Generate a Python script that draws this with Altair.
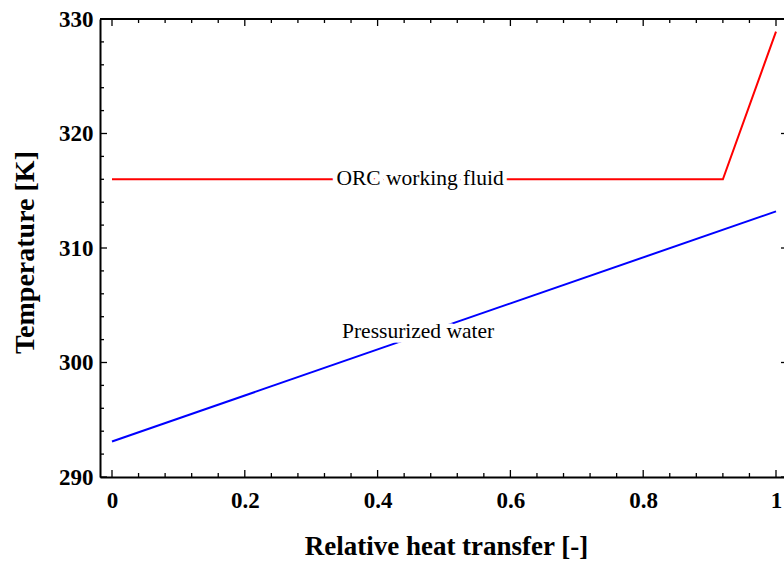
import altair as alt
import pandas as pd

# ORC working fluid: isothermal evaporation, then superheating
orc_x = [0.0, 0.92, 1.0]
orc_t = [316.0, 316.0, 328.9]
# Pressurized water (heat source side)
water_x = [0.0, 1.0]
water_t = [293.1, 313.2]

# Inline curve labels
label_text = ["ORC working fluid", "Pressurized water"]
label_x = [0.464, 0.461]
label_t = [316.0, 302.65]

# Tick positions
x_major = [0.0, 0.2, 0.4, 0.6, 0.8, 1.0]
x_minor = [0.04, 0.08, 0.12, 0.16, 0.24, 0.28, 0.32, 0.36, 0.44, 0.48, 0.52, 0.56,
           0.64, 0.68, 0.72, 0.76, 0.84, 0.88, 0.92, 0.96]
y_major = [290, 300, 310, 320, 330]
y_minor = [292, 294, 296, 298, 302, 304, 306, 308, 312, 314, 316, 318,
           322, 324, 326, 328]

W, H = 684, 458
SERIF = "Liberation Serif"

lines_df = pd.DataFrame({
    "x": orc_x + water_x,
    "t": orc_t + water_t,
    "series": ["ORC working fluid"] * len(orc_x) + ["Pressurized water"] * len(water_x),
})
labels_df = pd.DataFrame({"label": label_text, "x": label_x, "t": label_t})

xs = alt.Scale(domain=[-0.01807, 1.01205], nice=False, zero=False)
ys = alt.Scale(domain=[290, 330], nice=False, zero=False)

x_axis = alt.Axis(
    values=x_major, format=".1~f", title="Relative heat transfer [-]",
    titleFont=SERIF, titleFontSize=27, titleFontWeight="bold", titleColor="black",
    titleX=346, titleY=77, titleBaseline="alphabetic", titleAlign="center",
    labelFont=SERIF, labelFontSize=23, labelFontWeight="bold", labelColor="black",
    labelPadding=12, ticks=False, tickSize=0, domainColor="black", domainWidth=2,
    grid=False, labelFlush=False, labelOverlap=False,
)
y_axis = alt.Axis(
    values=y_major, format="d", title="Temperature [K]",
    titleFont=SERIF, titleFontSize=28, titleFontWeight="bold", titleColor="black",
    titleX=-67, titleY=233, titleAngle=-90, titleBaseline="alphabetic", titleAlign="center",
    labelFont=SERIF, labelFontSize=23, labelFontWeight="bold", labelColor="black",
    labelPadding=7, ticks=False, tickSize=0, domainColor="black", domainWidth=2,
    grid=False, labelFlush=False, labelOverlap=False,
)


def X(field):
    return alt.X(field, scale=xs, axis=x_axis)


def Y(field):
    return alt.Y(field, scale=ys, axis=y_axis)


lines = alt.Chart(lines_df).mark_line(strokeWidth=2).encode(
    x=X("x:Q"),
    y=Y("t:Q"),
    color=alt.Color("series:N", legend=None,
                    scale=alt.Scale(domain=["ORC working fluid", "Pressurized water"],
                                    range=["#ff0000", "#0000ff"])),
)

# White halo behind labels breaks the curves under the text
halo = alt.Chart(labels_df).mark_text(
    font=SERIF, fontSize=21.5, align="center", baseline="middle",
    color="white", stroke="white", strokeWidth=9, strokeJoin="round",
).encode(x=X("x:Q"), y=Y("t:Q"), text="label:N")
text = alt.Chart(labels_df).mark_text(
    font=SERIF, fontSize=21.5, align="center", baseline="middle", color="black",
).encode(x=X("x:Q"), y=Y("t:Q"), text="label:N")

top_line = alt.Chart(pd.DataFrame({"d": [0]})).mark_rule(color="black", strokeWidth=2).encode(
    x=alt.value(0), x2=alt.value(W), y=alt.value(0)
)


def xticks(vals, length):
    df = pd.DataFrame({"x": vals})
    base = alt.Chart(df).mark_rule(color="black", strokeWidth=1.3)
    bottom = base.encode(x=X("x:Q"), y=alt.value(H), y2=alt.value(H - length))
    top = base.encode(x=X("x:Q"), y=alt.value(0), y2=alt.value(length))
    return [bottom, top]


def yticks(vals, length):
    df = pd.DataFrame({"t": vals})
    base = alt.Chart(df).mark_rule(color="black", strokeWidth=1.3)
    left = base.encode(y=Y("t:Q"), x=alt.value(0), x2=alt.value(length))
    right = base.encode(y=Y("t:Q"), x=alt.value(W + 4), x2=alt.value(W + 4 - length))
    return [left, right]


tick_layers = xticks(x_major, 7) + xticks(x_minor, 4) + yticks(y_major, 7) + yticks(y_minor, 4)

chart = alt.layer(lines, *tick_layers, top_line, halo, text).properties(
    width=W, height=H,
    autosize=alt.AutoSizeParams(type="none"),
    padding={"left": 100, "top": 19, "right": 0, "bottom": 86},
    background="white",
).configure_view(stroke=None)

chart.save("out.html", embed_options={"renderer": "svg", "actions": False})
